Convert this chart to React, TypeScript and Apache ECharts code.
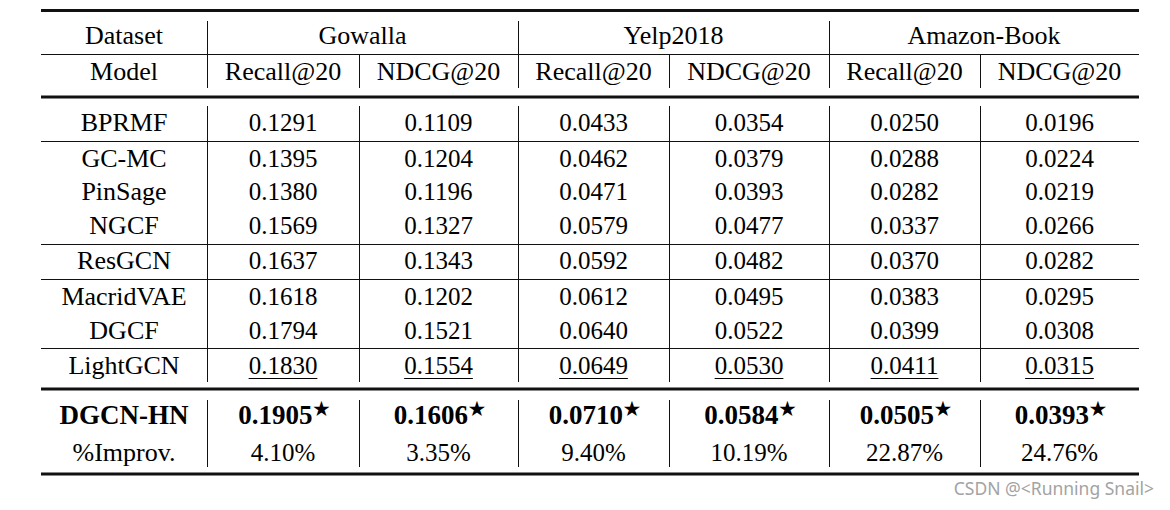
import React, { useEffect, useRef } from "react";
import * as echarts from "echarts";

// ---------- data ----------
const DATASETS = ["Gowalla", "Yelp2018", "Amazon-Book"];
const METRICS = ["Recall@20", "NDCG@20"];
const HEADER_DATASET = "Dataset";
const HEADER_MODEL = "Model";
const MODELS = ["BPRMF", "GC-MC", "PinSage", "NGCF", "ResGCN", "MacridVAE", "DGCF", "LightGCN"];
const BPRMF = [0.1291, 0.1109, 0.0433, 0.0354, 0.025, 0.0196];
const GCMC = [0.1395, 0.1204, 0.0462, 0.0379, 0.0288, 0.0224];
const PINSAGE = [0.138, 0.1196, 0.0471, 0.0393, 0.0282, 0.0219];
const NGCF = [0.1569, 0.1327, 0.0579, 0.0477, 0.0337, 0.0266];
const RESGCN = [0.1637, 0.1343, 0.0592, 0.0482, 0.037, 0.0282];
const MACRIDVAE = [0.1618, 0.1202, 0.0612, 0.0495, 0.0383, 0.0295];
const DGCF = [0.1794, 0.1521, 0.064, 0.0522, 0.0399, 0.0308];
const LIGHTGCN = [0.183, 0.1554, 0.0649, 0.053, 0.0411, 0.0315];
const BASELINE_VALUES = [BPRMF, GCMC, PINSAGE, NGCF, RESGCN, MACRIDVAE, DGCF, LIGHTGCN];
const SECOND_BEST_MODEL = "LightGCN";
const OURS = "DGCN-HN";
const OURS_VALUES = [0.1905, 0.1606, 0.071, 0.0584, 0.0505, 0.0393];
const SIGNIFICANCE_MARK = "★";
const IMPROV_LABEL = "%Improv.";
const IMPROV = ["4.10%", "3.35%", "9.40%", "10.19%", "22.87%", "24.76%"];
const WATERMARK = "CSDN @<Running Snail>";

// ---------- layout ----------
const W = 1170;
const H = 510;
const COL_EDGES = [41, 207, 359, 518, 669, 829, 980, 1139];
const HEADER_Y = [35, 71];
const ROW_Y = [122, 158, 191, 225, 260, 296, 330, 365];
const OURS_Y = [415, 452];
const THIN_RULES = [54.5, 141.5, 244.5, 279.5, 348.5];
const THICK_RULES = [10.5, 97, 389, 474];
const BODY_SPANS = [[106, 382], [400, 467]];
const HEAD_SPAN = [21, 88];
const SUBHEAD_SPAN = [54, 88];

const SERIF = '"Liberation Serif", "Times New Roman", serif';
const F_LABEL = `26px ${SERIF}`;
const F_NUM = `25px ${SERIF}`;
const F_BOLD = `bold 27px ${SERIF}`;
const F_BOLD_NAME = `bold 27px ${SERIF}`;
const F_STAR = `21px "DejaVu Sans", sans-serif`;
const INK = "#000";
const RULE = "#111";

type Cell = { x: number; y: number; text: string; kind: string };

const colCenter = (i: number) => (COL_EDGES[i] + COL_EDGES[i + 1]) / 2;
const fmt = (v: number) => v.toFixed(4);

function buildCells(): Cell[] {
  const cells: Cell[] = [];
  cells.push({ x: colCenter(0), y: HEADER_Y[0], text: HEADER_DATASET, kind: "label" });
  cells.push({ x: colCenter(0), y: HEADER_Y[1], text: HEADER_MODEL, kind: "label" });
  DATASETS.forEach((d, di) => {
    const x = (COL_EDGES[1 + di * 2] + COL_EDGES[3 + di * 2]) / 2;
    cells.push({ x, y: HEADER_Y[0], text: d, kind: "label" });
    METRICS.forEach((m, mi) => {
      cells.push({ x: colCenter(1 + di * 2 + mi), y: HEADER_Y[1], text: m, kind: "label" });
    });
  });
  MODELS.forEach((m, ri) => {
    cells.push({ x: colCenter(0), y: ROW_Y[ri], text: m, kind: "label" });
    BASELINE_VALUES[ri].forEach((v, ci) => {
      cells.push({
        x: colCenter(ci + 1),
        y: ROW_Y[ri],
        text: fmt(v),
        kind: m === SECOND_BEST_MODEL ? "second" : "num",
      });
    });
  });
  cells.push({ x: colCenter(0), y: OURS_Y[0], text: OURS, kind: "oursName" });
  OURS_VALUES.forEach((v, ci) => {
    cells.push({ x: colCenter(ci + 1), y: OURS_Y[0], text: fmt(v), kind: "best" });
  });
  cells.push({ x: colCenter(0), y: OURS_Y[1], text: IMPROV_LABEL, kind: "label" });
  IMPROV.forEach((t, ci) => {
    cells.push({ x: colCenter(ci + 1), y: OURS_Y[1], text: t, kind: "num" });
  });
  return cells;
}

let measureCtx: CanvasRenderingContext2D | null = null;
function measure(text: string, font: string) {
  if (!measureCtx) measureCtx = document.createElement("canvas").getContext("2d");
  if (!measureCtx) return text.length * 12;
  measureCtx.font = font;
  return measureCtx.measureText(text).width;
}

export default function App() {
  const ref = useRef<HTMLDivElement>(null);
  useEffect(() => {
    if (!ref.current) return;
    const chart = echarts.init(ref.current, undefined, { renderer: "svg" });
    const cells = buildCells();

    const graphics: any[] = [];
    const hline = (y: number, w: number) =>
      graphics.push({
        type: "line",
        shape: { x1: COL_EDGES[0], y1: y, x2: COL_EDGES[COL_EDGES.length - 1], y2: y },
        style: { stroke: RULE, lineWidth: w },
        silent: true,
      });
    THICK_RULES.forEach((y) => hline(y, 3));
    THIN_RULES.forEach((y) => hline(y, 1));
    const vline = (x: number, y1: number, y2: number) =>
      graphics.push({
        type: "line",
        shape: { x1: x + 0.5, y1, x2: x + 0.5, y2 },
        style: { stroke: RULE, lineWidth: 1 },
        silent: true,
      });
    [1, 3, 5].forEach((i) => vline(COL_EDGES[i], HEAD_SPAN[0], HEAD_SPAN[1]));
    [2, 4, 6].forEach((i) => vline(COL_EDGES[i], SUBHEAD_SPAN[0], SUBHEAD_SPAN[1]));
    BODY_SPANS.forEach(([a, b]) => {
      for (let i = 1; i < COL_EDGES.length - 1; i++) vline(COL_EDGES[i], a, b);
    });
    graphics.push({
      type: "text",
      right: 16,
      top: 479,
      style: {
        text: WATERMARK,
        font: '17.5px "Noto Sans", "DejaVu Sans", sans-serif',
        fill: "#a3a3a3",
      },
      silent: true,
    });

    chart.setOption({
      animation: false,
      grid: { left: 0, right: 0, top: 0, bottom: 0 },
      xAxis: { type: "value", min: 0, max: W, show: false },
      yAxis: { type: "value", min: 0, max: H, inverse: true, show: false },
      graphic: graphics,
      series: [
        {
          type: "custom",
          clip: false,
          silent: true,
          data: cells.map((c) => [c.x, c.y]),
          renderItem: (params: any, api: any) => {
            const c = cells[params.dataIndex];
            const p = api.coord([api.value(0), api.value(1)]);
            if (c.kind === "best") {
              const wv = measure(c.text, F_BOLD);
              const ws = measure(SIGNIFICANCE_MARK, F_STAR) * 0.8;
              const left = p[0] - (wv + ws) / 2;
              return {
                type: "group",
                children: [
                  {
                    type: "text",
                    x: left,
                    y: p[1],
                    style: { text: c.text, font: F_BOLD, fill: INK, align: "left", verticalAlign: "middle" },
                  },
                  {
                    type: "text",
                    x: left + wv - 0.5,
                    y: p[1] - 6,
                    style: { text: SIGNIFICANCE_MARK, font: F_STAR, fill: INK, align: "left", verticalAlign: "middle" },
                  },
                ],
              };
            }
            const font =
              c.kind === "label" ? F_LABEL : c.kind === "oursName" ? F_BOLD_NAME : F_NUM;
            const children: any[] = [
              {
                type: "text",
                x: p[0],
                y: p[1],
                style: { text: c.text, font, fill: INK, align: "center", verticalAlign: "middle" },
              },
            ];
            if (c.kind === "second") {
              const w = measure(c.text, font);
              children.push({
                type: "line",
                shape: { x1: p[0] - w / 2, y1: p[1] + 13.5, x2: p[0] + w / 2, y2: p[1] + 13.5 },
                style: { stroke: INK, lineWidth: 1.2 },
              });
            }
            return { type: "group", children };
          },
        },
      ],
    });
    return () => chart.dispose();
  }, []);
  return (
    <div
      ref={ref}
      style={{ position: "absolute", left: 0, top: 0, width: W, height: H, background: "#fff" }}
    />
  );
}
